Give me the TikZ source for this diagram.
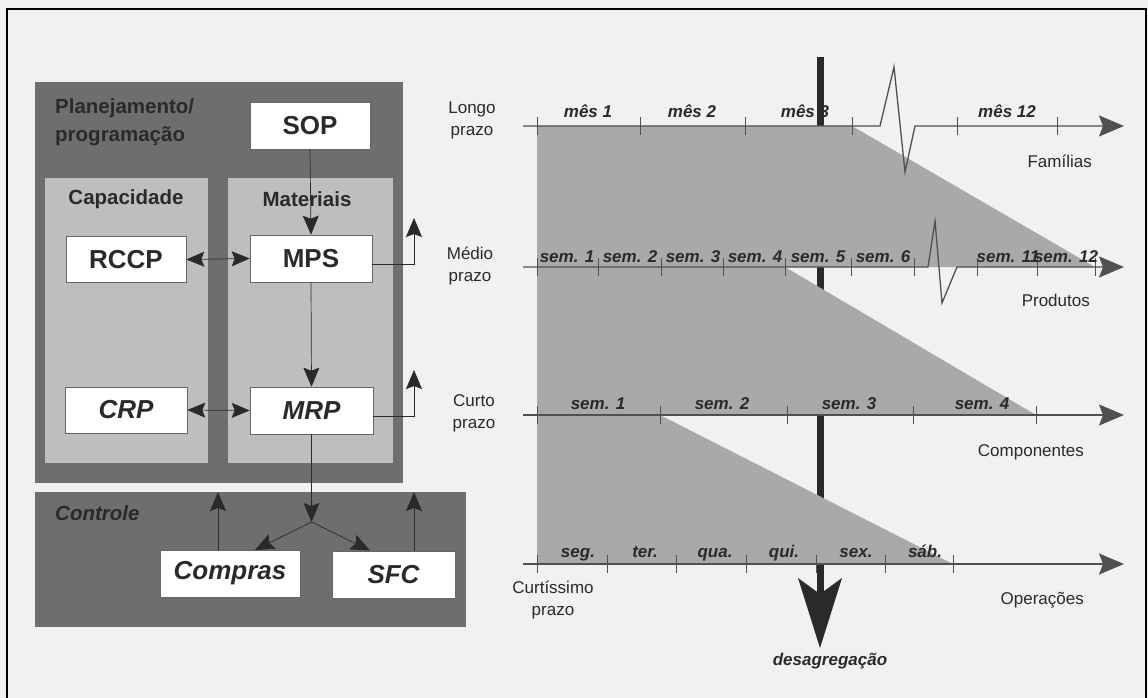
\documentclass[tikz,border=0pt]{standalone}
\usepackage{fontspec}
\setmainfont{Liberation Sans}
\usetikzlibrary{arrows.meta}
\definecolor{bg}{HTML}{F1F1F1}
\definecolor{darkpanel}{HTML}{6E6E6E}
\definecolor{lightpanel}{HTML}{BEBEBE}
\definecolor{tri}{HTML}{A9A9A9}
\definecolor{ink}{HTML}{2A2A2A}
\definecolor{linec}{HTML}{505050}
\begin{document}
\begin{tikzpicture}[x=1pt,y=-1pt,
  panel/.style={fill=darkpanel, draw=none, inner sep=0pt},
  subpanel/.style={fill=lightpanel, draw=none, inner sep=0pt},
  box/.style={draw=gray!80!black, line width=0.6pt, fill=white, minimum width=121pt, minimum height=46pt, inner sep=0pt, font=\fontsize{26}{30}\selectfont\bfseries, text=ink},
  ibox/.style={box, font=\fontsize{26}{30}\selectfont\bfseries\itshape},
  ptitle/.style={font=\fontsize{20.5}{28}\selectfont\bfseries, text=ink, inner sep=0pt},
  arr/.style={-{Stealth[length=19pt,width=16pt,inset=3pt]}, line width=0.7pt, draw=ink},
  darr/.style={{Stealth[length=18pt,width=15pt,inset=3pt]}-{Stealth[length=18pt,width=15pt,inset=3pt]}, line width=0.7pt, draw=ink},
  tline/.style={line width=1.3pt, draw=linec, -{Stealth[length=25pt,width=21pt,inset=4pt]}},
  tick/.style={line width=0.8pt, draw=linec},
  lbl/.style={font=\fontsize{17}{22}\selectfont, text=ink, inner sep=0pt, align=center},
  tl/.style={font=\fontsize{17}{20}\selectfont\bfseries\itshape, text=ink, inner sep=0pt, anchor=base}
]
\useasboundingbox (0,0) rectangle (1148,698);
\fill[bg] (0,0) rectangle (1148,698);
\draw[line width=1.6pt, black] (7,700) -- (7,9) -- (1146,9) -- (1146,700);

% ---------------- left panel ----------------
\node[panel, minimum width=368pt, minimum height=401pt] (plan) at (219,282.5) {};
\node[subpanel, minimum width=163pt, minimum height=285pt] (cap) at (126.5,320.5) {};
\node[subpanel, minimum width=165pt, minimum height=285pt] (mat) at (310.5,320.5) {};
\node[panel, minimum width=431pt, minimum height=135pt] (ctrl) at (250.5,559.5) {};

\node[ptitle, anchor=west, align=left] (ptit) at (55,122) {Planejamento/\\programação};
\node[ptitle] (captit) at (126,199) {Capacidade};
\node[ptitle] (mattit) at (307,199) {Materiais};
\node[ptitle, anchor=west, font=\fontsize{20.5}{24}\selectfont\bfseries\itshape] (ctit) at (55,513) {Controle};

\node[box, minimum width=120pt, minimum height=47pt] (sop) at (310,125.5) {SOP};
\node[box, minimum width=120pt] (rccp) at (126,259.5) {RCCP};
\node[box, minimum width=122pt, minimum height=47pt] (mps) at (311,258.5) {MPS};
\node[ibox, minimum width=122pt] (crp) at (126,410) {CRP};
\node[ibox, minimum width=123pt, minimum height=47pt] (mrp) at (311.5,410.5) {MRP};
\node[ibox, minimum width=140pt, minimum height=47pt] (compras) at (230,573.5) {Compras};
\node[ibox, minimum width=123pt, minimum height=47pt] (sfc) at (393.5,574.5) {SFC};

\draw[arr] (sop.south) -- (mps.north);
\draw[arr] (mps.south) -- (mrp.north);
\draw[darr] (rccp.east) -- (mps.west);
\draw[darr] (crp.east) -- (mrp.west);
\coordinate (junc) at (311.5,522);
\draw[arr] (mrp.south) -- (junc);
\draw[arr] (junc) -- (255,550);
\draw[arr] (junc) -- (370,550.5);
\coordinate (cup) at (218,492);
\coordinate (sup2) at (414,492);
\draw[arr] (compras.north -| cup) -- (cup);
\draw[arr] (sfc.north -| sup2) -- (sup2);
\coordinate (mpsout) at (414,218);
\coordinate (mrpout) at (414,370);
\draw[arr] ([yshift=-6pt]mps.east) -| (mpsout);
\draw[arr] ([yshift=-6pt]mrp.east) -| (mrpout);

% ---------------- right panel ----------------
% bar (behind the grey)
\fill[ink] (816.5,57) rectangle (823.5,594);
% grey disaggregation shape
\fill[tri] (537,126) -- (852,126) -- (1095,267) -- (785,267) -- (1036,415) -- (660,415) -- (953,564) -- (537,564) -- cycle;

% timelines
\coordinate (l1s) at (523,126); \coordinate (l1e) at (1124,126);
\coordinate (l2s) at (523,267); \coordinate (l2e) at (1124,267);
\coordinate (l3s) at (523,415); \coordinate (l3e) at (1124,415);
\coordinate (l4s) at (523,564); \coordinate (l4e) at (1124,564);
\draw[tline, line join=miter] (l1s) -- (880,126) -- (894,67) -- (905,172) -- (915,126) -- (l1e);
\draw[tline, line join=miter] (l2s) -- (928,267) -- (935,221) -- (942,303) -- (957,267) -- (l2e);
\draw[tline] (l3s) -- (l3e);
\draw[tline] (l4s) -- (l4e);

\foreach \x in {537,640,745,852,957,1057} \draw[tick] (\x,117) -- (\x,135);
\foreach \x in {537,598,661,723,785,851,914,977,1037,1095} \draw[tick] (\x,258) -- (\x,276);
\foreach \x in {537,660,787,913,1036} \draw[tick] (\x,406) -- (\x,424);
\foreach \x in {537,607,676,746,816,885,953} \draw[tick] (\x,555) -- (\x,573);

% disaggregation arrowhead
\fill[ink] (798,578) -- (820,594) -- (842,578) -- (820,648) -- cycle;

% tick labels (baseline-aligned)
\node[tl] (m1) at (588,118) {mês 1};
\node[tl] (m2) at (692,118) {mês 2};
\node[tl] (m3) at (805,118) {mês 3};
\node[tl] (m12) at (1007,118) {mês 12};

\node[tl] (s1) at (567,262) {sem. 1};
\node[tl] (s2) at (630,262) {sem. 2};
\node[tl] (s3) at (693,262) {sem. 3};
\node[tl] (s4) at (755,262) {sem. 4};
\node[tl] (s5) at (818,262) {sem. 5};
\node[tl] (s6) at (883,262) {sem. 6};
\node[tl] (s11) at (1008,262) {sem. 11};
\node[tl] (s12) at (1066,262) {sem. 12};

\node[tl] (c1) at (598,409) {sem. 1};
\node[tl] (c2) at (722,409) {sem. 2};
\node[tl] (c3) at (849,409) {sem. 3};
\node[tl] (c4) at (982,409) {sem. 4};

\node[tl] (d1) at (578,557) {seg.};
\node[tl] (d2) at (645,557) {ter.};
\node[tl] (d3) at (715,557) {qua.};
\node[tl] (d4) at (784,557) {qui.};
\node[tl] (d5) at (856,557) {sex.};
\node[tl] (d6) at (925,557) {sáb.};

% horizon labels
\node[lbl] (lp) at (472,120) {Longo\\prazo};
\node[lbl] (mp) at (470,266) {Médio\\prazo};
\node[lbl] (cp) at (474,413) {Curto\\prazo};
\node[lbl] (xp) at (553,600) {Curtíssimo\\prazo};

\node[lbl, anchor=east] (fam) at (1092,161) {Famílias};
\node[lbl, anchor=east] (prod) at (1090,300) {Produtos};
\node[lbl, anchor=east] (comp) at (1084,452) {Componentes};
\node[lbl, anchor=east] (oper) at (1084,600) {Operações};
\node[tl] (desag) at (830,665) {desagregação};
\end{tikzpicture}
\end{document}
